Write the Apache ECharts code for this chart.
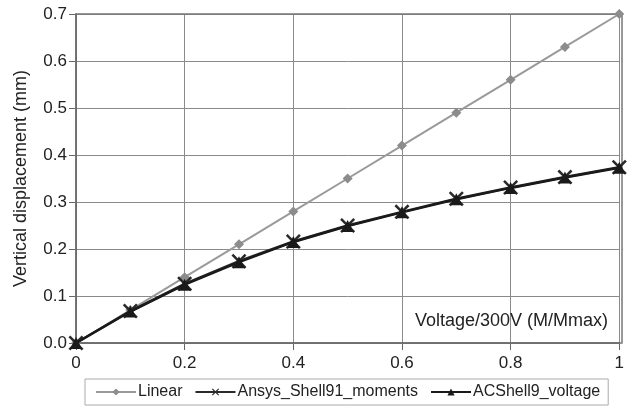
<!DOCTYPE html>
<html><head><meta charset="utf-8">
<script src="https://cdn.jsdelivr.net/npm/echarts@6/dist/echarts.min.js"></script>
<style>html,body{margin:0;padding:0;background:#fff}#c{width:627px;height:409px}</style>
</head><body><div id="c"></div>
<script>
const xValues = [0, 0.1, 0.2, 0.3, 0.4, 0.5, 0.6, 0.7, 0.8, 0.9, 1.0];
const linear = [0, 0.07, 0.14, 0.21, 0.28, 0.35, 0.42, 0.49, 0.56, 0.63, 0.70];
const ansys = [0, 0.068, 0.126, 0.174, 0.216, 0.250, 0.279, 0.307, 0.331, 0.353, 0.374];
const acshell = [0, 0.067, 0.124, 0.172, 0.215, 0.249, 0.278, 0.306, 0.330, 0.352, 0.373];
const seriesNames = ['Linear', 'Ansys_Shell91_moments', 'ACShell9_voltage'];
const xAxisTitle = 'Voltage/300V (M/Mmax)';
const yAxisTitle = 'Vertical displacement (mm)';

const xMark = 'path://M0,1.2L1.2,0L5,3.8L8.8,0L10,1.2L6.2,5L10,8.8L8.8,10L5,6.2L1.2,10L0,8.8L3.8,5Z';
const font = 'Liberation Sans, Arial, sans-serif';
const pairs = arr => xValues.map((x, i) => [x, arr[i]]);

const chart = echarts.init(document.getElementById('c'), null, {renderer: 'canvas'});
chart.setOption({
  animation: false,
  grid: {left: 76, right: 5, top: 14, bottom: 66, show: false},
  xAxis: {
    type: 'value', min: 0, max: 1, interval: 0.2,
    axisLine: {show: true, onZero: false, lineStyle: {color: '#444', width: 1.5}},
    axisTick: {show: true, length: 7, lineStyle: {color: '#666'}},
    axisLabel: {color: '#222', fontSize: 17, fontFamily: font, margin: 12},
    splitLine: {show: true, lineStyle: {color: '#8a8a8a', width: 1}}
  },
  yAxis: {
    type: 'value', min: 0, max: 0.7, interval: 0.1,
    name: yAxisTitle, nameLocation: 'middle', nameGap: 46,
    nameTextStyle: {color: '#222', fontSize: 18, fontFamily: font},
    axisLine: {show: true, lineStyle: {color: '#444', width: 1.5}},
    axisTick: {show: true, length: 7, lineStyle: {color: '#666'}},
    axisLabel: {color: '#222', fontSize: 17, fontFamily: font, margin: 9,
      formatter: v => v.toFixed(1)},
    splitLine: {show: true, lineStyle: {color: '#8a8a8a', width: 1}}
  },
  graphic: [
    {type: 'rect', shape: {x: 76, y: 14, width: 546, height: 329}, style: {fill: 'none', stroke: '#777', lineWidth: 1.5}, silent: true, z: 1},
    {type: 'text', right: 19, top: 312, style: {text: xAxisTitle, fill: '#222', fontSize: 18, fontFamily: font}, z: 10}
  ],
  legend: {
    left: 85, top: 379,
    padding: [5, 8, 5, 10],
    borderColor: '#aaa', borderWidth: 1,
    itemWidth: 40, itemHeight: 9, itemGap: 12,
    textStyle: {color: '#222', fontSize: 16, fontFamily: font, padding: [0, 0, 0, -3]},
    data: seriesNames
  },
  series: [
    {name: seriesNames[0], type: 'line', data: pairs(linear),
     symbol: 'diamond', symbolSize: 10, showAllSymbol: true,
     lineStyle: {color: '#9a9a9a', width: 2}, itemStyle: {color: '#8c8c8c'}, z: 3},
    {name: seriesNames[1], type: 'line', data: pairs(ansys),
     symbol: xMark, symbolSize: 15, showAllSymbol: true,
     lineStyle: {color: '#2a2a2a', width: 2.5}, itemStyle: {color: '#2a2a2a'}, z: 4},
    {name: seriesNames[2], type: 'line', data: pairs(acshell),
     symbol: 'triangle', symbolSize: 12, showAllSymbol: true,
     lineStyle: {color: '#1a1a1a', width: 2.5}, itemStyle: {color: '#1a1a1a'}, z: 5}
  ]
});
</script></body></html>
